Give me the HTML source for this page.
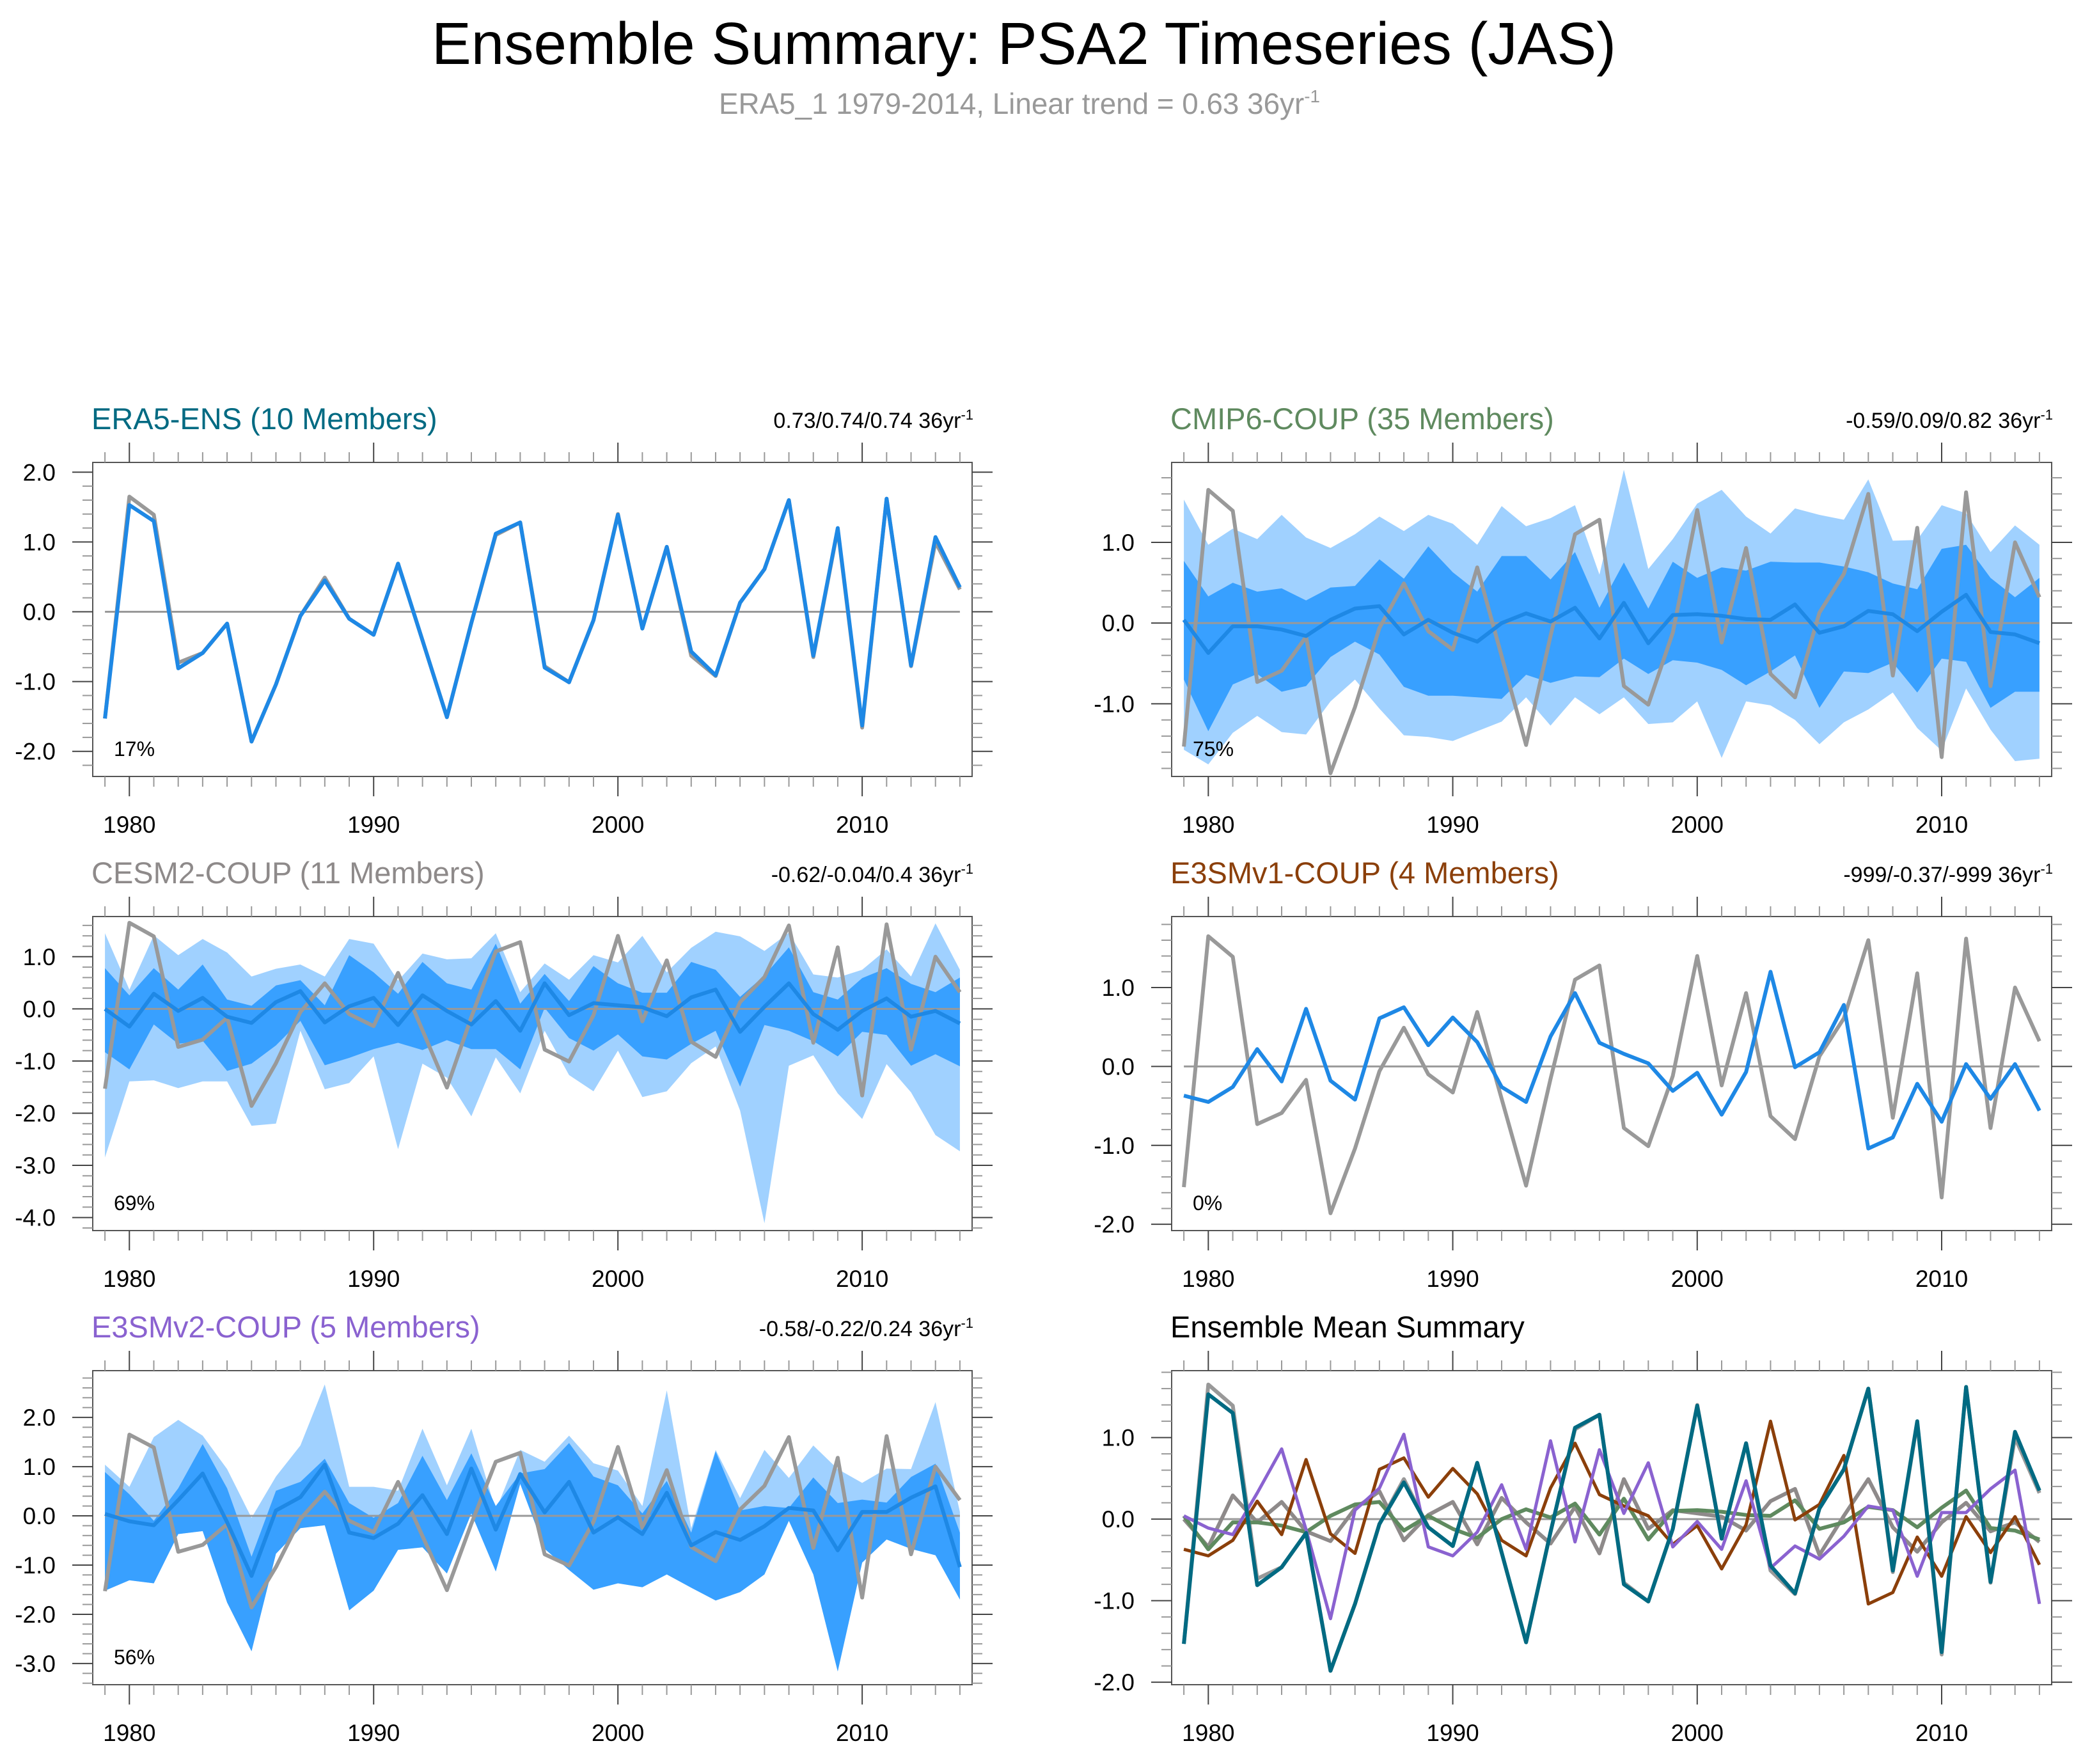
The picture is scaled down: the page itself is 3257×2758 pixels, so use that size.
<!DOCTYPE html>
<html><head><meta charset="utf-8"><style>
html,body{margin:0;padding:0;background:#fff}
svg{display:block;font-family:"Liberation Sans",Arial,sans-serif}
</style></head><body>
<svg id="chart" width="3257" height="2758" viewBox="0 0 3257 2758" xmlns="http://www.w3.org/2000/svg">
<text x="1601" y="100" text-anchor="middle" font-size="93" textLength="1852" lengthAdjust="spacingAndGlyphs" fill="#000">Ensemble Summary: PSA2 Timeseries (JAS)</text>
<text x="1124" y="178" font-size="46" fill="#999" textLength="940" lengthAdjust="spacingAndGlyphs">ERA5_1 1979-2014, Linear trend = 0.63 36yr<tspan dy="-18" font-size="28">-1</tspan></text>
<g id="panels"></g>
</svg>
<script>
const years = [];
for (let y = 1979; y <= 2014; y++) years.push(y);
const obs = [-1.53,1.65,1.39,-0.73,-0.59,-0.17,-1.86,-1.04,-0.06,0.49,-0.10,-0.33,0.69,-0.41,-1.51,-0.16,1.10,1.28,-0.78,-1.01,-0.12,1.40,-0.24,0.93,-0.63,-0.92,0.13,0.61,1.60,-0.65,1.18,-1.66,1.62,-0.78,1.00,0.32];
const era5Mean = [-1.53,1.53,1.30,-0.81,-0.59,-0.17,-1.86,-1.04,-0.06,0.45,-0.10,-0.33,0.69,-0.41,-1.51,-0.16,1.12,1.28,-0.80,-1.01,-0.12,1.39,-0.24,0.93,-0.57,-0.91,0.13,0.61,1.60,-0.63,1.20,-1.63,1.62,-0.77,1.07,0.35];
const cmipMean = [0.04,-0.37,-0.04,-0.04,-0.08,-0.16,0.04,0.18,0.21,-0.14,0.04,-0.12,-0.23,0,0.12,0.02,0.19,-0.19,0.25,-0.25,0.10,0.11,0.09,0.05,0.04,0.23,-0.12,-0.04,0.15,0.11,-0.10,0.14,0.35,-0.11,-0.14,-0.25];
const cmipInUp = [0.77,0.33,0.50,0.39,0.43,0.28,0.44,0.46,0.79,0.55,0.95,0.63,0.39,0.83,0.83,0.54,0.88,0.19,0.75,0.18,0.76,0.56,0.69,0.65,0.76,0.75,0.75,0.70,0.63,0.49,0.42,0.92,0.97,0.56,0.32,0.56];
const cmipInLo = [-0.70,-1.34,-0.76,-0.63,-0.85,-0.78,-0.42,-0.23,-0.39,-0.79,-0.90,-0.90,-0.92,-0.94,-0.64,-0.74,-0.66,-0.67,-0.44,-0.63,-0.46,-0.49,-0.58,-0.77,-0.60,-0.40,-1.05,-0.60,-0.62,-0.49,-0.86,-0.44,-0.48,-1.05,-0.85,-0.85];
const cmipOutUp = [1.53,0.97,1.17,1.04,1.34,1.06,0.93,1.10,1.32,1.14,1.34,1.23,0.97,1.45,1.20,1.30,1.46,0.60,1.90,0.67,1.04,1.48,1.65,1.32,1.11,1.42,1.34,1.28,1.78,1.02,1.03,1.46,1.36,0.88,1.21,0.97];
const cmipOutLo = [-1.57,-1.75,-1.36,-1.15,-1.35,-1.38,-0.97,-0.70,-1.06,-1.39,-1.41,-1.46,-1.34,-1.22,-0.92,-1.27,-0.92,-1.13,-0.92,-1.25,-1.23,-0.97,-1.67,-0.97,-1.02,-1.20,-1.50,-1.23,-1.07,-0.86,-1.30,-1.58,-0.81,-1.32,-1.71,-1.68];
const cesmMean = [0,-0.34,0.29,-0.04,0.21,-0.15,-0.27,0.13,0.34,-0.26,0.05,0.21,-0.31,0.26,-0.04,-0.30,0.15,-0.42,0.49,-0.12,0.11,0.07,0.03,-0.14,0.22,0.37,-0.44,0.04,0.49,-0.10,-0.40,-0.04,0.20,-0.15,-0.04,-0.28];
const cesmInUp = [0.78,0.26,0.78,0.37,0.85,0.18,0.06,0.45,0.55,0.07,1.03,0.70,0.29,0.90,0.49,0.37,1.25,0.10,0.67,0.15,0.82,0.49,0.31,0.31,0.90,0.75,0.23,0.64,1.18,0.32,0.18,0.59,0.78,0.48,0.32,0.60];
const cesmInLo = [-0.83,-1.16,-0.30,-0.67,-0.61,-1.19,-1.05,-0.70,-0.23,-1.08,-0.94,-0.77,-0.65,-0.79,-0.60,-0.77,-0.77,-1.16,0.02,-0.56,-0.80,-0.49,-0.91,-0.97,-0.67,-0.42,-1.49,-0.31,-0.42,-0.62,-0.91,-0.44,-0.50,-1.09,-0.87,-1.10];
const cesmOutUp = [1.45,0.37,1.41,1.03,1.34,1.08,0.62,0.77,0.85,0.62,1.34,1.25,0.54,1.06,0.95,0.97,1.45,0.32,0.87,0.56,1.03,0.89,1.40,0.70,1.17,1.48,1.39,1.11,1.46,0.66,0.60,0.75,1.14,0.62,1.64,0.75];
const cesmOutLo = [-2.85,-1.39,-1.37,-1.52,-1.39,-1.39,-2.24,-2.20,-0.42,-1.54,-1.42,-0.91,-2.69,-1.05,-1.32,-2.06,-0.93,-1.62,-0.42,-1.27,-1.58,-0.80,-1.69,-1.58,-1.04,-0.72,-1.95,-4.11,-1.09,-0.89,-1.62,-2.11,-1.06,-1.60,-2.42,-2.73];
const e3v1Mean = [-0.37,-0.45,-0.26,0.22,-0.19,0.73,-0.18,-0.42,0.61,0.75,0.27,0.62,0.31,-0.26,-0.45,0.38,0.93,0.30,0.16,0.04,-0.31,-0.08,-0.61,-0.07,1.20,-0.01,0.18,0.78,-1.04,-0.90,-0.22,-0.70,0.03,-0.41,0.03,-0.56];
const e3v2Mean = [0.04,-0.11,-0.19,0.32,0.86,-0.13,-1.22,0.11,0.38,1.04,-0.34,-0.45,-0.16,0.42,-0.37,0.96,-0.28,0.85,0.07,0.69,-0.34,-0.03,-0.37,0.47,-0.60,-0.33,-0.49,-0.21,0.16,0.11,-0.70,0.08,0.08,0.37,0.60,-1.04];
const e3v2InUp = [0.89,0.44,-0.10,0.56,1.46,0.56,-0.83,0.51,0.69,1.16,0.26,-0.04,0.26,1.22,0.32,1.27,0.20,0.86,0.95,1.48,0.80,0.62,0.05,0.71,-0.34,1.31,0.11,0.20,0.16,0.78,0.26,0.33,0.27,0.79,1.06,-0.34];
const e3v2InLo = [-1.52,-1.31,-1.37,-0.37,-0.31,-1.76,-2.75,-0.77,-0.25,-0.19,-1.92,-1.52,-0.69,-0.64,-1.17,0.05,-1.13,0.65,-0.67,-1.10,-1.50,-1.37,-1.45,-1.19,-1.46,-1.72,-1.55,-1.19,-0.10,-1.19,-3.16,-0.95,-0.48,-0.67,-0.80,-1.70];
const e3v2OutUp = [1.04,0.59,1.60,1.95,1.63,0.95,-0.04,0.80,1.43,2.67,0.59,0.59,0.51,1.77,0.62,1.77,0.11,1.34,1.10,1.63,1.07,0.92,0.20,2.55,-0.25,1.34,0.36,1.34,0.77,1.43,0.95,0.67,0.96,0.95,2.31,0.08];
const e3v2OutLo = e3v2InLo;
const yTickVals = [-4,-3,-2,-1,0,1,2];
const xTickYears = [1980,1990,2000,2010];

const C = {blue:'#1E88E5', dark:'#38A0FF', light:'#A0D1FF', obs:'#999999', era:'#006A82', cmip:'#5F8A5F', cesm:'#8E8A8A', v1:'#8B3F0A', v2:'#8A62D0'};
const NS = 'http://www.w3.org/2000/svg';
const root = document.getElementById('panels');
function el(tag, attrs, parent) {
  const e = document.createElementNS(NS, tag);
  for (const k in attrs) e.setAttribute(k, attrs[k]);
  (parent || root).appendChild(e);
  return e;
}
const panels = [
  {id:'era5-ens', title:'ERA5-ENS (10 Members)', tcol:C.era, stat:'0.73/0.74/0.74 36yr', pct:'17%', L:145, R:1520, T:723, B:1214, ymax:2.14, ymin:-2.36, mean:era5Mean},
  {id:'cmip6-coup', title:'CMIP6-COUP (35 Members)', tcol:C.cmip, stat:'-0.59/0.09/0.82 36yr', pct:'75%', L:1832, R:3208, T:723, B:1214, ymax:1.99, ymin:-1.90, mean:cmipMean, inUp:cmipInUp, inLo:cmipInLo, outUp:cmipOutUp, outLo:cmipOutLo},
  {id:'cesm2-coup', title:'CESM2-COUP (11 Members)', tcol:C.cesm, stat:'-0.62/-0.04/0.4 36yr', pct:'69%', L:145, R:1520, T:1433, B:1924, ymax:1.77, ymin:-4.25, mean:cesmMean, inUp:cesmInUp, inLo:cesmInLo, outUp:cesmOutUp, outLo:cesmOutLo},
  {id:'e3smv1-coup', title:'E3SMv1-COUP (4 Members)', tcol:C.v1, stat:'-999/-0.37/-999 36yr', pct:'0%', L:1832, R:3208, T:1433, B:1924, ymax:1.90, ymin:-2.08, mean:e3v1Mean},
  {id:'e3smv2-coup', title:'E3SMv2-COUP (5 Members)', tcol:C.v2, stat:'-0.58/-0.22/0.24 36yr', pct:'56%', L:145, R:1520, T:2143, B:2634, ymax:2.95, ymin:-3.43, mean:e3v2Mean, inUp:e3v2InUp, inLo:e3v2InLo, outUp:e3v2OutUp, outLo:e3v2OutLo},
  {id:'ensemble-mean-summary', title:'Ensemble Mean Summary', tcol:'#000', stat:null, pct:null, L:1832, R:3208, T:2143, B:2634, ymax:1.82, ymin:-2.03, summary:true}
];
panels.forEach(p => {
  const g = el('g', {});
  
  
  const pxYear = (p.R - p.L) / 36;
  const xs = yr => p.L + (yr - 1978.5) * pxYear;
  const ys = v => p.T + (p.ymax - v) / (p.ymax - p.ymin) * (p.B - p.T);
  const pts = arr => arr.map((v, i) => xs(years[i]).toFixed(1) + ',' + ys(v).toFixed(1)).join(' ');
  const band = (up, lo, col, name) => {
    const poly = up.map((v, i) => xs(years[i]).toFixed(1) + ',' + ys(v).toFixed(1));
    for (let i = lo.length - 1; i >= 0; i--) poly.push(xs(years[i]).toFixed(1) + ',' + ys(lo[i]).toFixed(1));
    const e = el('polygon', {points: poly.join(' '), fill: col}, g);
    
    
  };
  const line = (arr, col, w, name) => {
    const e = el('polyline', {points: pts(arr), fill: 'none', stroke: col, 'stroke-width': w, 'stroke-linejoin': 'round'}, g);
    
    
  };
  if (p.outUp) band(p.outUp, p.outLo, C.light, 'outer-spread-band');
  if (p.inUp) band(p.inUp, p.inLo, C.dark, 'inner-spread-band');
  const z = el('line', {x1: xs(1979), x2: xs(2014), y1: ys(0), y2: ys(0), stroke: '#999', 'stroke-width': 3}, g);
  
  
  if (p.summary) {
    line(obs, C.obs, 6, 'observed-line');
    line(cesmMean, C.cesm, 6, 'cesm2-mean-line');
    line(cmipMean, C.cmip, 6, 'cmip6-mean-line');
    line(e3v1Mean, C.v1, 5, 'e3smv1-mean-line');
    line(e3v2Mean, C.v2, 5, 'e3smv2-mean-line');
    line(era5Mean, C.era, 6, 'era5-mean-line');
  } else {
    line(obs, C.obs, 6, 'observed-line');
    line(p.mean, C.blue, 6, 'ensemble-mean-line');
  }
  const f = el('rect', {x: p.L, y: p.T, width: p.R - p.L, height: p.B - p.T, fill: 'none', stroke: '#555', 'stroke-width': 2}, g);
  
  
  for (let yr = 1979; yr <= 2014; yr++) {
    const major = yr % 10 === 0;
    const len = major ? 31 : 16;
    el('line', {x1: xs(yr), x2: xs(yr), y1: p.T, y2: p.T - len, stroke: major ? '#444' : '#999', 'stroke-width': 2}, g);
    el('line', {x1: xs(yr), x2: xs(yr), y1: p.B, y2: p.B + len, stroke: major ? '#444' : '#999', 'stroke-width': 2}, g);
  }
  xTickYears.forEach(yr => {
    const t = el('text', {x: xs(yr), y: p.B + 88, 'font-size': 37, 'text-anchor': 'middle', fill: '#000'}, g);
    t.textContent = yr;
    
    
  });
  for (let k = Math.ceil(p.ymin * 5); k <= Math.floor(p.ymax * 5); k++) {
    const v = k / 5;
    const major = k % 5 === 0;
    const len = major ? 32 : 16;
    el('line', {x1: p.L, x2: p.L - len, y1: ys(v), y2: ys(v), stroke: major ? '#444' : '#999', 'stroke-width': 2}, g);
    el('line', {x1: p.R, x2: p.R + len, y1: ys(v), y2: ys(v), stroke: major ? '#444' : '#999', 'stroke-width': 2}, g);
  }
  yTickVals.filter(v => v >= p.ymin && v <= p.ymax).forEach(v => {
    const t = el('text', {x: p.L - 58, y: ys(v) + 13, 'font-size': 37, 'text-anchor': 'end', fill: '#000'}, g);
    t.textContent = v.toFixed(1);
    
    
  });
  const tt = el('text', {x: p.L - 2, y: p.T - 52, 'font-size': 47, fill: p.tcol}, g);
  tt.textContent = p.title;
  
  
  if (p.stat) {
    const s = el('text', {x: p.R + 2, y: p.T - 54, 'font-size': 34, 'text-anchor': 'end', fill: '#000'}, g);
    
    
    s.textContent = p.stat;
    const sup = el('tspan', {dy: -13, 'font-size': 22}, s);
    sup.textContent = '-1';
  }
  if (p.pct) {
    const t = el('text', {x: p.L + 33, y: p.B - 32, 'font-size': 32, fill: '#000'}, g);
    t.textContent = p.pct;
    
    
  }
});
</script>
</body></html>
